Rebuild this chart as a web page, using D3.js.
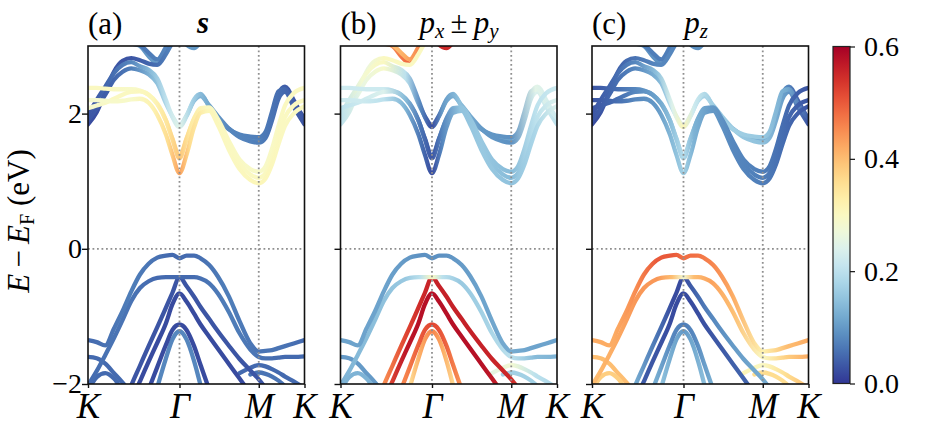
<!DOCTYPE html>
<html><head><meta charset="utf-8">
<script src="https://cdn.jsdelivr.net/npm/d3@7/dist/d3.min.js"></script>
<style>body{margin:0;background:#fff;} svg{display:block;font-family:"Liberation Serif","DejaVu Serif",serif;}</style>
</head><body><svg id="c" width="925" height="430"></svg>
<script>
// ---- data ----
// k path fraction K-Γ-M-K (hexagonal BZ lengths)
const kGrid = [0, 0.04, 0.08, 0.12, 0.16, 0.20, 0.24, 0.28, 0.32, 0.36, 0.39, 0.4226, 0.455, 0.49, 0.52, 0.56, 0.60, 0.65, 0.70, 0.75, 0.7887, 0.82, 0.85, 0.88, 0.91, 0.95, 1.0];
const kTickPos = [0, 0.4226, 0.7887, 1];
const kTickLabels = ["K", "Γ", "M", "K"];
const yTicks = [-2, 0, 2];
const yTickLabels = ["−2", "0", "2"];
const cbarTicks = [0.0, 0.2, 0.4, 0.6];
const panelTags = ["(a)", "(b)", "(c)"];
const N = null;
const bandNames = ["C7","C8","C6","C5","C4","C3","C2","C1","VB3","VB4","VB9","VB10","VB8","VB7","VB6","VB5","VB2","VB1"];
const bandE = [
  [N,N,N,3.2,3.12,3.04,3.00,2.85,2.74,2.95,3.08,3.15,3.02,2.97,3.05,3.2,N,N,N,N,N,N,N,N,N,N,N],
  [N,N,N,N,3.2,3.1,3.02,2.90,2.80,2.98,3.12,N,N,N,N,N,N,N,N,N,N,N,N,N,N,N,N],
  [1.84,2.02,2.32,2.62,2.78,2.82,2.79,2.74,2.72,2.88,3.05,3.2,N,N,N,N,N,1.78,1.67,1.62,1.61,1.68,1.97,2.30,2.40,2.20,1.90],
  [1.90,2.08,2.28,2.50,2.62,2.67,2.64,2.58,2.45,2.15,1.96,1.83,1.97,2.19,2.26,2.12,1.96,1.78,1.65,1.59,1.57,1.64,1.90,2.22,2.32,2.10,1.84],
  [1.98,2.20,2.40,2.60,2.72,2.76,2.70,2.65,2.52,2.20,1.95,1.80,1.96,2.21,2.29,2.10,1.91,1.77,1.69,1.66,1.65,1.73,2.03,2.33,2.36,2.15,1.93],
  [2.38,2.38,2.37,2.36,2.36,2.36,2.34,2.28,2.15,1.90,1.63,1.37,1.63,1.93,2.08,2.09,1.92,1.60,1.32,1.18,1.14,1.22,1.48,1.82,2.12,2.30,2.38],
  [2.08,2.12,2.16,2.22,2.28,2.32,2.33,2.28,2.14,1.90,1.62,1.34,1.62,1.92,2.06,2.07,1.88,1.55,1.26,1.10,1.05,1.12,1.35,1.68,1.95,2.12,2.20],
  [2.20,2.20,2.19,2.18,2.19,2.21,2.22,2.16,1.98,1.69,1.39,1.12,1.39,1.80,2.01,2.04,1.83,1.47,1.18,1.02,0.97,1.04,1.25,1.55,1.82,2.00,2.11],
  [-1.60,-1.62,-1.70,-1.84,-1.98,-2.14,N,N,N,N,N,N,N,N,N,N,N,N,N,N,N,N,N,N,N,N,N],
  [-2.10,-1.90,-1.84,-1.92,-2.10,N,N,N,N,N,N,N,N,N,N,N,N,N,N,N,N,N,N,N,N,N,N],
  [N,N,N,N,N,N,N,N,N,N,N,N,N,N,N,N,N,N,-1.84,-1.76,-1.72,-1.74,-1.78,-1.83,-1.89,-1.96,-2.06],
  [N,N,N,N,N,N,N,N,N,N,N,N,N,N,N,N,N,N,N,-1.86,-1.83,-1.85,-1.89,-1.95,-2.03,-2.12,N],
  [N,N,N,N,N,N,N,N,-2.05,-1.62,-1.34,-1.22,-1.34,-1.66,-2.02,N,N,N,N,N,N,N,N,N,N,N,N],
  [N,N,N,N,N,N,-2.4,-2.08,-1.75,-1.42,-1.20,-1.12,-1.20,-1.44,-1.72,-2.08,-2.4,N,N,N,N,N,N,N,N,N,N],
  [N,N,N,N,-2.5,-2.24,-1.96,-1.67,-1.39,-1.10,-0.82,-0.66,-0.78,-0.96,-1.12,-1.30,-1.48,-1.70,-1.92,-2.14,N,N,N,N,N,N,N],
  [N,N,N,N,-2.35,-2.02,-1.73,-1.44,-1.16,-0.87,-0.65,-0.42,-0.55,-0.71,-0.86,-1.04,-1.22,-1.43,-1.63,-1.80,-1.93,-2.06,-2.2,N,N,N,N],
  [-2.02,-1.81,-1.57,-1.32,-1.05,-0.77,-0.58,-0.48,-0.43,-0.42,-0.42,-0.42,-0.42,-0.42,-0.44,-0.51,-0.66,-0.93,-1.25,-1.49,-1.60,-1.62,-1.62,-1.61,-1.60,-1.60,-1.59],
  [-1.35,-1.38,-1.43,-1.18,-0.92,-0.63,-0.38,-0.22,-0.13,-0.10,-0.09,-0.14,-0.10,-0.10,-0.14,-0.24,-0.41,-0.70,-1.07,-1.40,-1.52,-1.51,-1.50,-1.47,-1.44,-1.40,-1.35]
];
// orbital weights sampled along the path
const wGrid = [0, 0.1, 0.2, 0.3, 0.37, 0.4226, 0.47, 0.55, 0.65, 0.7887, 0.9, 1.0];
const wS = [
  [0.09,0.09,0.09,0.10,0.10,0.10,0.10,0.10,0.10,0.10,0.10,0.10],
  [0.06,0.06,0.06,0.07,0.08,0.08,0.08,0.08,0.08,0.08,0.08,0.08],
  [0.02,0.03,0.03,0.05,0.07,0.08,0.08,0.08,0.08,0.08,0.04,0.02],
  [0.03,0.04,0.07,0.14,0.19,0.23,0.16,0.11,0.08,0.07,0.05,0.03],
  [0.03,0.05,0.08,0.15,0.21,0.25,0.18,0.12,0.08,0.07,0.05,0.03],
  [0.30,0.30,0.29,0.30,0.33,0.37,0.33,0.30,0.30,0.29,0.30,0.30],
  [0.28,0.30,0.30,0.31,0.35,0.39,0.34,0.30,0.30,0.30,0.30,0.30],
  [0.28,0.29,0.29,0.32,0.36,0.43,0.36,0.31,0.30,0.31,0.30,0.30],
  [0.05,0.05,0.05,0.05,0.05,0.05,0.05,0.05,0.05,0.05,0.05,0.05],
  [0.05,0.05,0.05,0.05,0.05,0.05,0.05,0.05,0.05,0.05,0.05,0.05],
  [0.05,0.05,0.05,0.05,0.05,0.05,0.05,0.05,0.05,0.05,0.05,0.05],
  [0.06,0.06,0.06,0.06,0.06,0.06,0.06,0.06,0.06,0.06,0.06,0.06],
  [0.08,0.08,0.08,0.08,0.08,0.08,0.08,0.08,0.08,0.08,0.08,0.08],
  [0.02,0.02,0.02,0.02,0.02,0.02,0.02,0.02,0.02,0.02,0.02,0.02],
  [0.02,0.02,0.02,0.02,0.02,0.02,0.02,0.02,0.02,0.02,0.02,0.02],
  [0.03,0.03,0.03,0.03,0.03,0.03,0.03,0.03,0.03,0.03,0.03,0.03],
  [0.05,0.06,0.06,0.05,0.05,0.05,0.05,0.06,0.07,0.06,0.05,0.05],
  [0.05,0.06,0.07,0.06,0.05,0.05,0.05,0.06,0.07,0.06,0.06,0.05]
];
const wPxy = [
  [0.42,0.42,0.44,0.48,0.52,0.55,0.55,0.55,0.55,0.55,0.55,0.55],
  [0.36,0.36,0.38,0.42,0.46,0.48,0.48,0.48,0.48,0.48,0.48,0.48],
  [0.20,0.26,0.30,0.30,0.30,0.30,0.15,0.13,0.12,0.12,0.25,0.22],
  [0.20,0.26,0.29,0.20,0.09,0.03,0.10,0.14,0.10,0.09,0.24,0.20],
  [0.20,0.28,0.30,0.20,0.08,0.02,0.10,0.15,0.10,0.09,0.25,0.22],
  [0.22,0.22,0.22,0.14,0.07,0.04,0.09,0.15,0.16,0.14,0.20,0.22],
  [0.20,0.22,0.24,0.14,0.06,0.03,0.08,0.15,0.16,0.14,0.20,0.24],
  [0.22,0.22,0.20,0.13,0.06,0.02,0.08,0.15,0.16,0.15,0.18,0.24],
  [0.10,0.10,0.10,0.10,0.10,0.10,0.10,0.10,0.10,0.10,0.10,0.10],
  [0.13,0.13,0.13,0.13,0.13,0.13,0.13,0.13,0.13,0.13,0.13,0.13],
  [0.22,0.22,0.22,0.22,0.22,0.22,0.22,0.22,0.24,0.28,0.20,0.18],
  [0.17,0.17,0.17,0.17,0.17,0.17,0.17,0.17,0.17,0.17,0.17,0.17],
  [0.32,0.32,0.32,0.33,0.42,0.46,0.42,0.33,0.32,0.32,0.32,0.32],
  [0.45,0.45,0.45,0.46,0.50,0.52,0.50,0.45,0.45,0.45,0.45,0.45],
  [0.50,0.50,0.50,0.57,0.58,0.58,0.58,0.58,0.58,0.55,0.50,0.50],
  [0.45,0.45,0.45,0.52,0.55,0.56,0.56,0.56,0.56,0.55,0.50,0.50],
  [0.13,0.14,0.15,0.16,0.20,0.30,0.20,0.16,0.17,0.20,0.14,0.13],
  [0.11,0.11,0.11,0.10,0.09,0.09,0.09,0.10,0.11,0.12,0.11,0.11]
];
const wPz = [
  [0.09,0.09,0.09,0.09,0.09,0.09,0.09,0.09,0.09,0.09,0.09,0.09],
  [0.07,0.07,0.07,0.07,0.07,0.07,0.07,0.07,0.07,0.07,0.07,0.07],
  [0.02,0.04,0.06,0.08,0.08,0.08,0.08,0.12,0.12,0.12,0.08,0.02],
  [0.03,0.05,0.08,0.13,0.20,0.26,0.20,0.16,0.16,0.15,0.10,0.03],
  [0.03,0.05,0.08,0.15,0.24,0.31,0.22,0.17,0.17,0.16,0.12,0.04],
  [0.03,0.05,0.08,0.11,0.15,0.18,0.13,0.10,0.08,0.07,0.05,0.03],
  [0.03,0.05,0.08,0.11,0.15,0.19,0.13,0.10,0.08,0.07,0.05,0.03],
  [0.03,0.05,0.08,0.10,0.14,0.17,0.13,0.10,0.08,0.07,0.05,0.03],
  [0.40,0.40,0.40,0.40,0.40,0.40,0.40,0.40,0.40,0.40,0.40,0.40],
  [0.38,0.38,0.38,0.38,0.38,0.38,0.38,0.38,0.38,0.38,0.38,0.38],
  [0.38,0.38,0.38,0.38,0.38,0.38,0.38,0.36,0.32,0.30,0.36,0.40],
  [0.36,0.36,0.36,0.36,0.36,0.36,0.36,0.36,0.36,0.36,0.36,0.36],
  [0.18,0.18,0.18,0.16,0.12,0.10,0.12,0.16,0.18,0.18,0.18,0.18],
  [0.15,0.15,0.15,0.12,0.08,0.07,0.08,0.12,0.15,0.15,0.15,0.15],
  [0.04,0.04,0.04,0.03,0.02,0.02,0.02,0.03,0.04,0.05,0.05,0.05],
  [0.15,0.15,0.12,0.06,0.02,0.02,0.04,0.08,0.10,0.12,0.12,0.12],
  [0.40,0.42,0.44,0.44,0.40,0.28,0.40,0.43,0.40,0.30,0.38,0.42],
  [0.42,0.42,0.45,0.50,0.50,0.48,0.48,0.46,0.42,0.32,0.40,0.42]
];
const weightSets = [wS, wPxy, wPz];

// ---- layout ----
const svg = d3.select("#c");
const defs = svg.append("defs");
const PW = 216.5, yTop = 46, yBot = 384;
const lefts = [88, 340.5, 592];
const y = d3.scaleLinear().domain([-2, 3]).range([yBot, yTop]);
const vmax = 0.6;
const cmap = d3.scaleSequential(t => d3.interpolateRdYlBu(1 - t)).domain([0, vmax]).clamp(true);
const serif = '"Liberation Serif","DejaVu Serif",serif';

lefts.forEach((L, p) => {
  const x = d3.scaleLinear().domain([0, 1]).range([L, L + PW]);
  defs.append("clipPath").attr("id", "clip" + p)
    .append("rect").attr("x", L).attr("y", yTop).attr("width", PW).attr("height", yBot - yTop);
  const g = svg.append("g").attr("clip-path", `url(#clip${p})`);
  const line = d3.line().defined(d => d[1] !== null)
    .x(d => x(d[0])).y(d => y(d[1])).curve(d3.curveMonotoneX);
  bandE.forEach((band, b) => {
    const gid = `grad${p}_${b}`;
    const grad = defs.append("linearGradient").attr("id", gid)
      .attr("gradientUnits", "userSpaceOnUse")
      .attr("x1", L).attr("x2", L + PW).attr("y1", 0).attr("y2", 0);
    weightSets[p][b].forEach((w, j) =>
      grad.append("stop").attr("offset", wGrid[j]).attr("stop-color", cmap(w)));
    g.append("path").attr("d", line(kGrid.map((k, i) => [k, band[i]])))
      .attr("fill", "none").attr("stroke", `url(#${gid})`)
      .attr("stroke-width", 4.3).attr("stroke-linecap", "round").attr("stroke-linejoin", "round");
  });
  // dotted guides
  const dot = svg.append("g").attr("stroke", "#8f8f8f").attr("stroke-width", 1.8)
    .attr("stroke-dasharray", "1.8,2.7").attr("fill", "none");
  [kTickPos[1], kTickPos[2]].forEach(k =>
    dot.append("line").attr("x1", x(k)).attr("x2", x(k)).attr("y1", yTop).attr("y2", yBot));
  dot.append("line").attr("x1", L).attr("x2", L + PW).attr("y1", y(0)).attr("y2", y(0));
  // frame
  svg.append("rect").attr("x", L).attr("y", yTop).attr("width", PW).attr("height", yBot - yTop)
    .attr("fill", "none").attr("stroke", "#111").attr("stroke-width", 1.6);
  // x axis
  const xa = svg.append("g").attr("transform", `translate(0,${yBot})`)
    .call(d3.axisBottom(x).tickValues(kTickPos).tickSize(4).tickFormat((d, i) => kTickLabels[i]));
  xa.select(".domain").remove();
  xa.selectAll("line").attr("stroke", "#111").attr("stroke-width", 1.4);
  xa.selectAll("text").attr("font-family", serif).attr("font-style", "italic")
    .attr("font-size", 35).attr("fill", "#000").attr("dy", 0).attr("y", 34);
  // y axis
  const ya = svg.append("g").attr("transform", `translate(${L},0)`)
    .call(d3.axisLeft(y).tickValues(yTicks).tickSize(6).tickFormat((d, i) => p === 0 ? yTickLabels[i] : ""));
  ya.select(".domain").remove();
  ya.selectAll("line").attr("stroke", "#111").attr("stroke-width", 1.4);
  ya.selectAll("text").attr("font-family", serif).attr("font-size", 28).attr("fill", "#000").attr("x", -6);
  // tag
  svg.append("text").attr("x", L).attr("y", 34).attr("font-family", serif)
    .attr("font-size", 31).text(panelTags[p]);
});

// orbital titles
svg.append("text").attr("x", 203).attr("y", 33).attr("text-anchor", "middle")
  .attr("font-family", serif).attr("font-size", 31).attr("font-style", "italic").attr("font-weight", "bold").text("s");
const t2 = svg.append("text").attr("x", 459).attr("y", 33).attr("text-anchor", "middle")
  .attr("font-family", serif).attr("font-size", 31);
t2.append("tspan").attr("font-style", "italic").text("p");
t2.append("tspan").attr("font-style", "italic").attr("font-size", 21).attr("dy", 5).text("x");
t2.append("tspan").attr("dy", -5).text("\u2009±\u2009");
t2.append("tspan").attr("font-style", "italic").text("p");
t2.append("tspan").attr("font-style", "italic").attr("font-size", 21).attr("dy", 5).text("y");
const t3 = svg.append("text").attr("x", 696).attr("y", 33).attr("text-anchor", "middle")
  .attr("font-family", serif).attr("font-size", 31);
t3.append("tspan").attr("font-style", "italic").text("p");
t3.append("tspan").attr("font-style", "italic").attr("font-size", 21).attr("dy", 5).text("z");

// y label
const yl = svg.append("text").attr("transform", "translate(29,221) rotate(-90)")
  .attr("text-anchor", "middle").attr("font-family", serif).attr("font-size", 31);
yl.append("tspan").attr("font-style", "italic").text("E");
yl.append("tspan").text("\u2009−\u2009");
yl.append("tspan").attr("font-style", "italic").text("E");
yl.append("tspan").attr("font-size", 20).attr("dy", 5).text("F");
yl.append("tspan").attr("dy", -5).text(" (eV)");

// colorbar
const cbX = 833, cbW = 17;
const cy = d3.scaleLinear().domain([0, vmax]).range([yBot - 0.5, yTop + 0.5]);
const cg = defs.append("linearGradient").attr("id", "cbar").attr("x1", 0).attr("x2", 0).attr("y1", 1).attr("y2", 0);
d3.range(0, 1.0001, 0.05).forEach(t => cg.append("stop").attr("offset", t).attr("stop-color", cmap(t * vmax)));
svg.append("rect").attr("x", cbX).attr("y", cy(vmax)).attr("width", cbW).attr("height", cy(0) - cy(vmax))
  .attr("fill", "url(#cbar)").attr("stroke", "#222").attr("stroke-width", 1.2);
const ca = svg.append("g").attr("transform", `translate(${cbX + cbW},0)`)
  .call(d3.axisRight(cy).tickValues(cbarTicks).tickSize(5).tickFormat(d3.format(".1f")));
ca.select(".domain").remove();
ca.selectAll("line").attr("stroke", "#111").attr("stroke-width", 1.2);
ca.selectAll("text").attr("font-family", serif).attr("font-size", 28).attr("fill", "#000").attr("x", 14);
</script></body></html>
